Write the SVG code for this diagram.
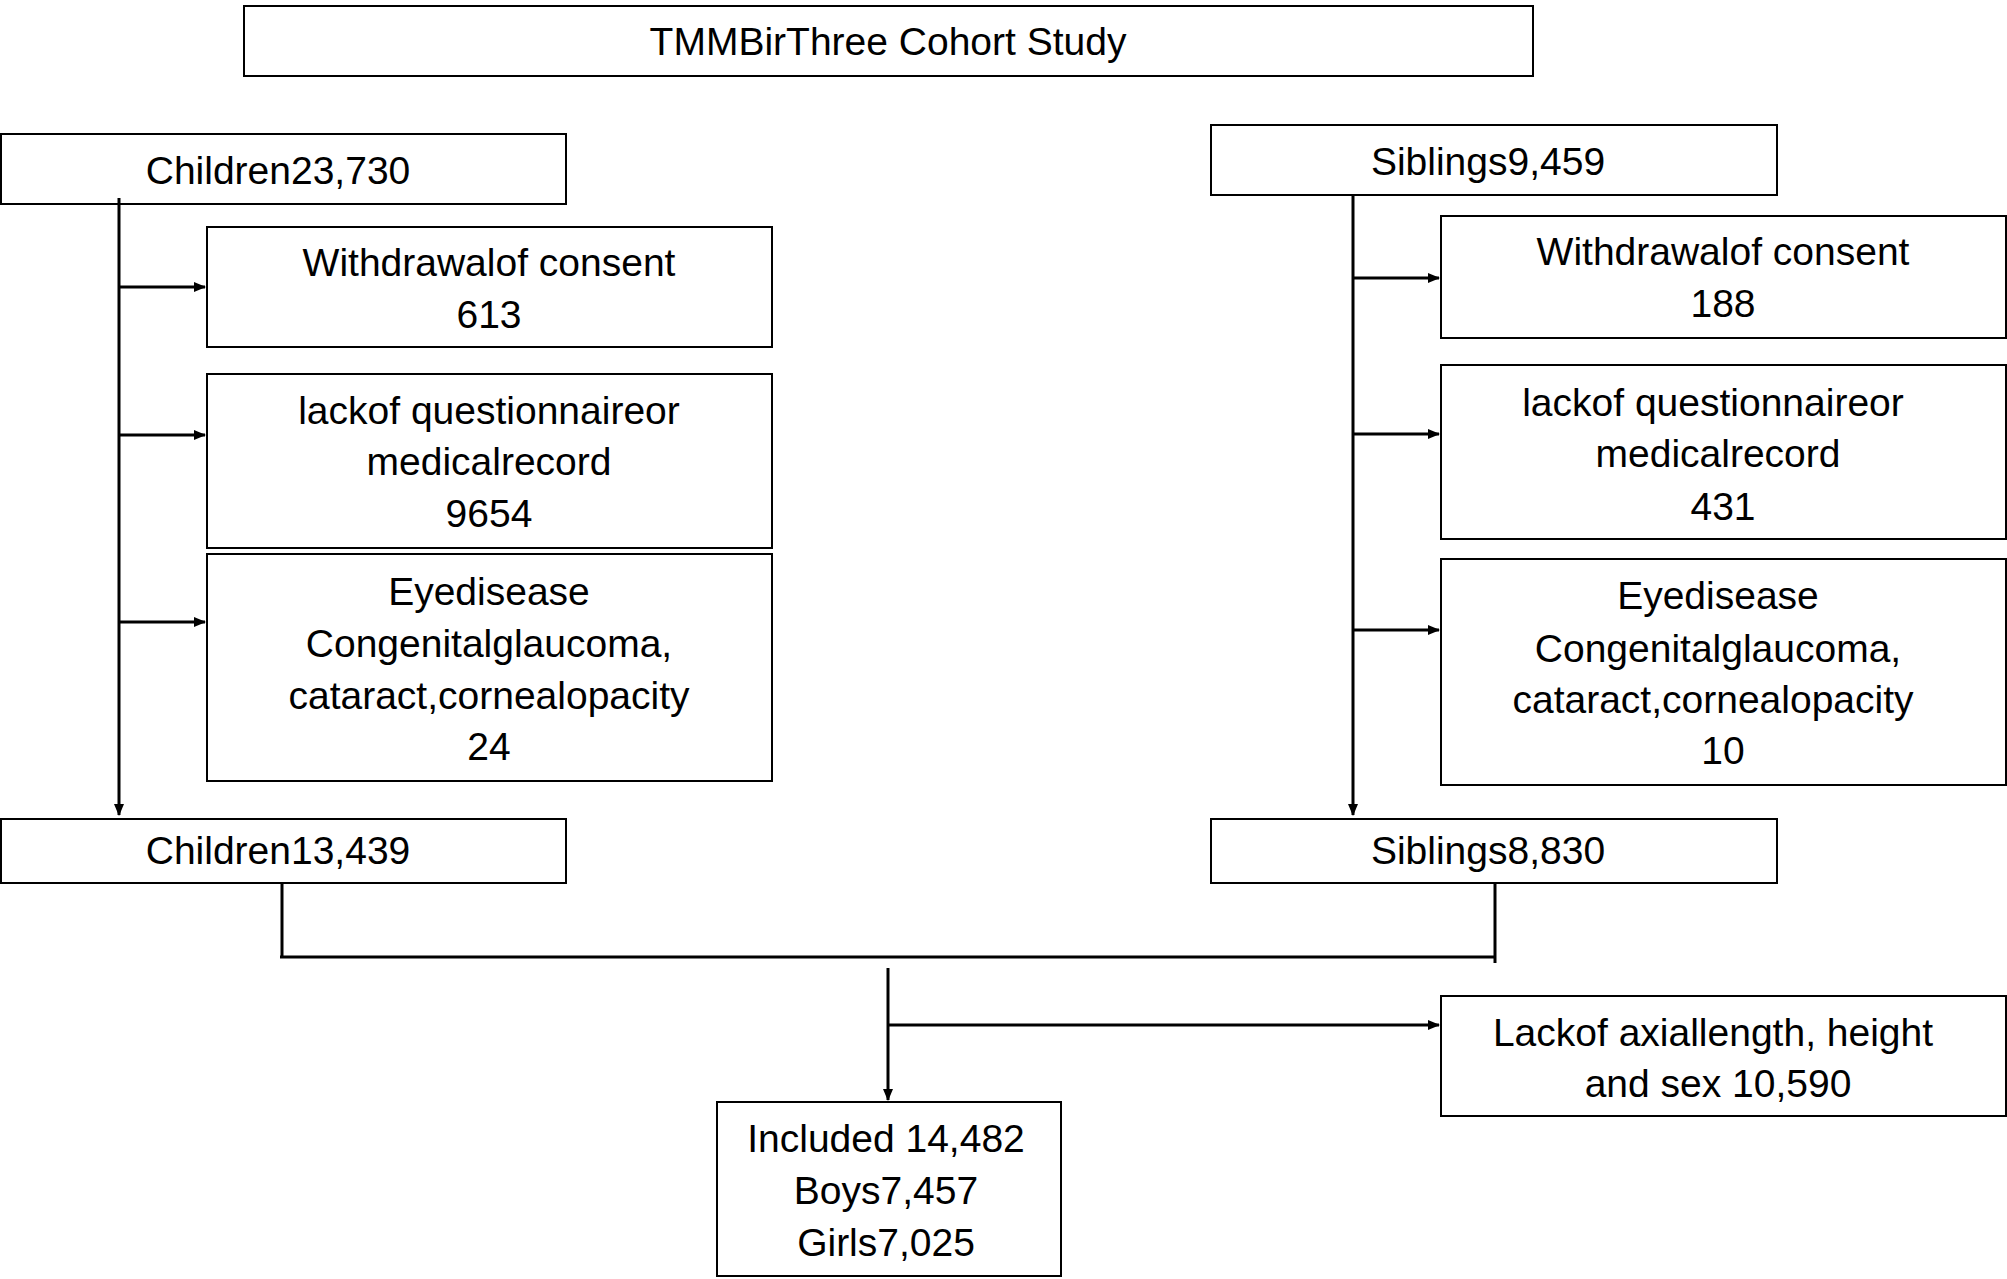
<svg xmlns="http://www.w3.org/2000/svg" width="2007" height="1279" viewBox="0 0 2007 1279">
<defs>
<marker id="ah" markerWidth="12" markerHeight="10" refX="11" refY="5" orient="auto" markerUnits="userSpaceOnUse"><path d="M0,0 L12,5 L0,10 z" fill="#000"/></marker>
<style>
rect{fill:#fff;stroke:#000;stroke-width:2}
text{font-family:"Liberation Sans",Arial,sans-serif;font-size:39px;text-anchor:middle;fill:#000}
.c line{stroke:#000;stroke-width:3}
.a{marker-end:url(#ah)}
</style>
</defs>
<rect width="2007" height="1279" style="stroke:none"/>
<g id="top"><rect x="244" y="6" width="1289" height="70"/><text x="888" y="55">TMMBirThree Cohort Study</text></g>
<g id="c1"><rect x="1" y="134" width="565" height="70"/><text x="278" y="184">Children23,730</text></g>
<g id="cw"><rect x="207" y="227" width="565" height="120"/><text x="489" y="276">Withdrawalof  consent</text><text x="489" y="328">613</text></g>
<g id="cl"><rect x="207" y="374" width="565" height="174"/><text x="489" y="424">lackof  questionnaireor</text><text x="489" y="475">medicalrecord</text><text x="489" y="527">9654</text></g>
<g id="ce"><rect x="207" y="554" width="565" height="227"/><text x="489" y="605">Eyedisease</text><text x="489" y="657">Congenitalglaucoma,</text><text x="489" y="709">cataract,cornealopacity</text><text x="489" y="760">24</text></g>
<g id="c2"><rect x="1" y="819" width="565" height="64"/><text x="278" y="864">Children13,439</text></g>
<g id="s1"><rect x="1211" y="125" width="566" height="70"/><text x="1488" y="175">Siblings9,459</text></g>
<g id="sw"><rect x="1441" y="216" width="565" height="122"/><text x="1723" y="265">Withdrawalof  consent</text><text x="1723" y="317">188</text></g>
<g id="sl"><rect x="1441" y="365" width="565" height="174"/><text x="1713" y="416">lackof  questionnaireor</text><text x="1718" y="467">medicalrecord</text><text x="1723" y="520">431</text></g>
<g id="se"><rect x="1441" y="559" width="565" height="226"/><text x="1718" y="609">Eyedisease</text><text x="1718" y="662">Congenitalglaucoma,</text><text x="1713" y="713">cataract,cornealopacity</text><text x="1723" y="764">10</text></g>
<g id="s2"><rect x="1211" y="819" width="566" height="64"/><text x="1488" y="864">Siblings8,830</text></g>
<g id="lack"><rect x="1441" y="996" width="565" height="120"/><text x="1713" y="1046">Lackof axiallength, height</text><text x="1718" y="1097">and sex 10,590</text></g>
<g id="inc"><rect x="717" y="1102" width="344" height="174"/><text x="886" y="1152">Included 14,482</text><text x="886" y="1204">Boys7,457</text><text x="886" y="1256">Girls7,025</text></g>
<g class="c" id="connectors">
<line class="a" x1="119" y1="198" x2="119" y2="815"/>
<line class="a" x1="119" y1="287" x2="205" y2="287"/>
<line class="a" x1="119" y1="435" x2="205" y2="435"/>
<line class="a" x1="119" y1="622" x2="205" y2="622"/>
<line class="a" x1="1353" y1="195" x2="1353" y2="815"/>
<line class="a" x1="1353" y1="278" x2="1439" y2="278"/>
<line class="a" x1="1353" y1="434" x2="1439" y2="434"/>
<line class="a" x1="1353" y1="630" x2="1439" y2="630"/>
<line x1="282" y1="883" x2="282" y2="957"/>
<line x1="280" y1="957" x2="1496" y2="957"/>
<line x1="1495" y1="883" x2="1495" y2="963"/>
<line class="a" x1="888" y1="968" x2="888" y2="1100"/>
<line class="a" x1="888" y1="1025" x2="1439" y2="1025"/>
</g>
</svg>
